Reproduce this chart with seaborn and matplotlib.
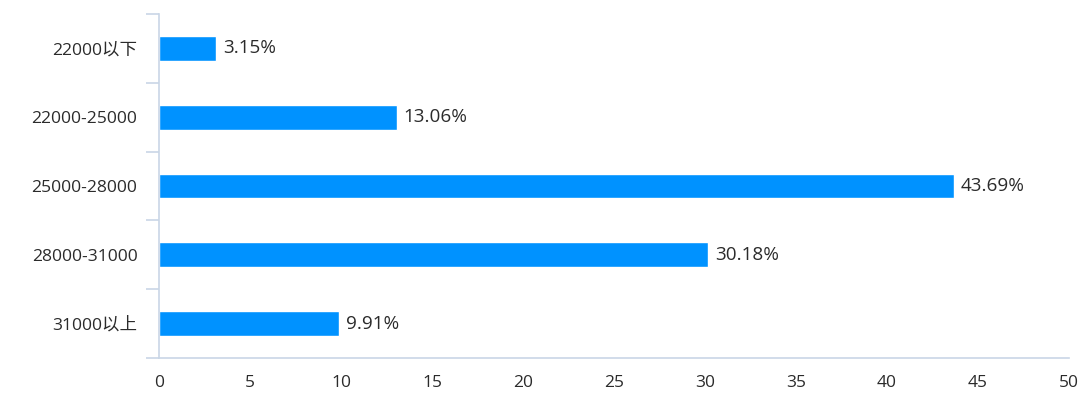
import seaborn as sns
import pandas as pd
import matplotlib.pyplot as plt

categories = ['22000以下', '22000-25000', '25000-28000', '28000-31000', '31000以上']
shares = [3.15, 13.06, 43.69, 30.18, 9.91]
bar_labels = ['3.15%', '13.06%', '43.69%', '30.18%', '9.91%']
x_ticks = [0, 5, 10, 15, 20, 25, 30, 35, 40, 45, 50]

df = pd.DataFrame({'range': categories, 'share': shares})

sns.set_style('white')
plt.rcParams['font.family'] = ['Open Sans', 'Noto Sans CJK SC', 'DejaVu Sans']

axis_col = '#c9d6e6'
text_col = '#2b2b2b'

fig = plt.figure(figsize=(10.8, 3.98), dpi=100)
ax = fig.add_axes([0.1472, 0.1005, 0.8426, 0.8643])

sns.barplot(data=df, x='share', y='range', orient='h', color='#0092ff',
            width=0.36, saturation=1, ax=ax)

ax.bar_label(ax.containers[0], labels=bar_labels, padding=5, fontsize=13.6, color=text_col)

ax.set_xlim(0, 50)
ax.set_ylim(4.5, -0.5)
ax.set_xticks(x_ticks)
ax.set_xticklabels([str(t) for t in x_ticks])
ax.set_xlabel('')
ax.set_ylabel('')

# y ticks sit on the category boundaries, labels in the middle
ax.set_yticks([i - 0.5 for i in range(6)], minor=False)
ax.set_yticklabels([])
ax.set_yticks(range(5), minor=True)
ax.set_yticklabels(categories, minor=True)
ax.tick_params(axis='y', which='both', left=True)
ax.tick_params(axis='y', which='major', length=9.5, width=1.2, color=axis_col)
ax.tick_params(axis='y', which='minor', length=0, pad=15.5, labelsize=12.6, labelcolor=text_col)
ax.tick_params(axis='x', length=0, pad=12, labelsize=12.5, labelcolor=text_col)

for s in ['top', 'right']:
    ax.spines[s].set_visible(False)
for s in ['left', 'bottom']:
    ax.spines[s].set_color(axis_col)
    ax.spines[s].set_linewidth(1.2)

fig.savefig('out.png', dpi=100)
